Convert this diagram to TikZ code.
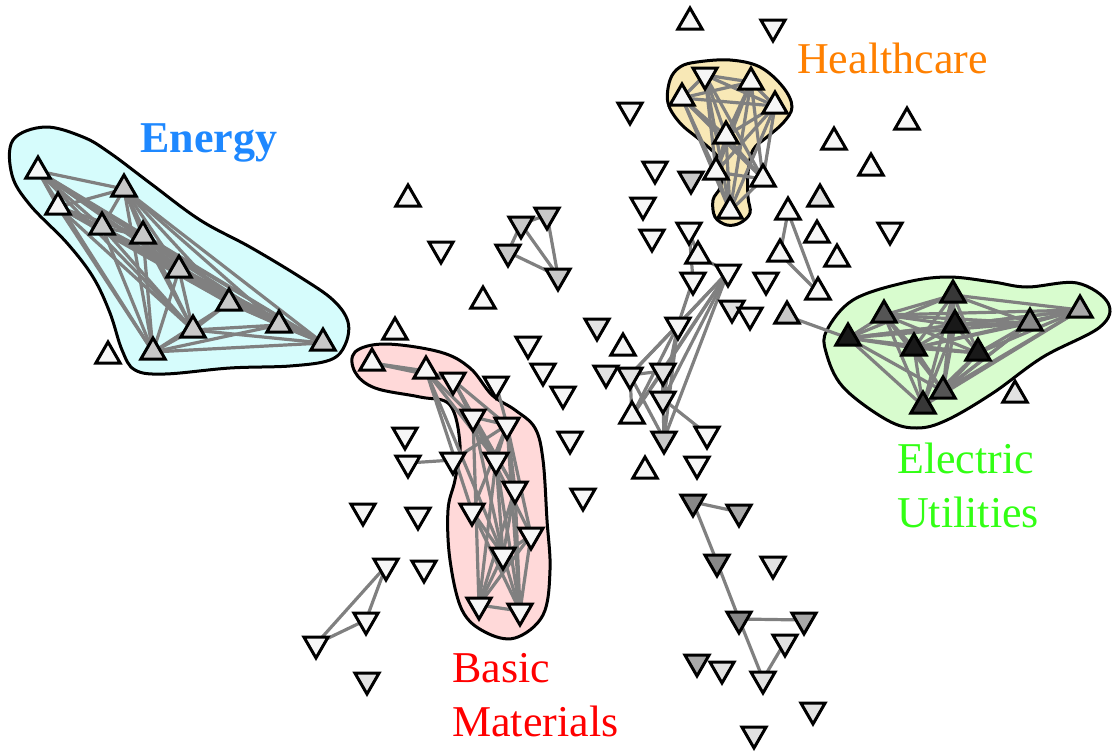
\documentclass[tikz,border=0pt]{standalone}
\usepackage{fontspec}
\setmainfont{LiberationSerif}[Extension=.ttf, UprightFont=*-Regular, BoldFont=*-Bold]
\usetikzlibrary{shapes.geometric}
\pgfdeclarelayer{blob}
\pgfdeclarelayer{edge}
\pgfsetlayers{blob,edge,main}
\definecolor{cw}{RGB}{246,246,246}
\definecolor{cl}{RGB}{226,226,226}
\definecolor{cg}{RGB}{200,200,200}
\definecolor{cm}{RGB}{168,168,168}
\definecolor{cn}{RGB}{136,136,136}
\definecolor{cd}{RGB}{85,85,85}
\definecolor{ce}{RGB}{55,55,55}
\definecolor{cx}{RGB}{25,25,25}
\definecolor{linkgray}{RGB}{128,128,128}
\definecolor{enfill}{RGB}{214,252,252}
\definecolor{hcfill}{RGB}{248,232,182}
\definecolor{bmfill}{RGB}{255,217,217}
\definecolor{eufill}{RGB}{216,252,206}
\definecolor{entext}{RGB}{30,136,255}
\definecolor{hctext}{RGB}{255,128,0}
\definecolor{bmtext}{RGB}{255,0,0}
\definecolor{eutext}{RGB}{50,255,20}
\tikzset{
  tri/.style={regular polygon, regular polygon sides=3, minimum size=28pt, inner sep=0pt, draw=black, line width=3pt},
  tup/.style={tri},
  tdn/.style={tri, shape border rotate=180},
  lnk/.style={draw=linkgray, line width=3.2pt},
  blobline/.style={draw=black, line width=3pt},
  lab/.style={font=\fontsize{44}{54}\selectfont, inner sep=0pt, anchor=north west, align=left},
}
\newcommand\triU[4]{\node[tup, fill=#4] (#1) at (#2,#3+3) {};}
\newcommand\triD[4]{\node[tdn, fill=#4] (#1) at (#2,#3-3) {};}
\newcommand\lk[2]{\draw[lnk] (#1.center) -- (#2.center);}
\newcommand\clique[1]{\foreach \a [count=\i] in {#1}{\foreach \b [count=\j] in {#1}{\ifnum\j>\i\relax\draw[lnk] (\a.center) -- (\b.center);\fi}}}
\begin{document}
\begin{tikzpicture}[x=1pt,y=-1pt]
\useasboundingbox (0,0) rectangle (1112,755);
% ---- blobs
\begin{pgfonlayer}{blob}
\path[blobline, fill=enfill] plot[smooth cycle, tension=0.6] coordinates {(13,140) (45,127) (83,137) (110,153) (150,183) (200,220) (250,247) (300,277) (333,300) (348,322) (345,345) (330,360) (290,366) (230,368) (165,374) (135,370) (122,350) (110,313) (93,277) (67,243) (30,205) (12,175)};
\path[blobline, fill=hcfill] plot[smooth cycle, tension=0.6] coordinates {(697,62) (730,60) (760,67) (783,87) (792,107) (783,123) (767,137) (753,150) (748,173) (748,197) (750,213) (740,223) (727,225) (715,217) (713,200) (720,188) (722,173) (718,157) (700,140) (680,123) (668,103) (670,80) (680,67)};
\path[blobline, fill=bmfill] plot[smooth cycle, tension=0.6] coordinates {(355,352) (385,344) (440,352) (470,368) (492,395) (515,410) (535,428) (543,460) (547,520) (550,570) (543,615) (515,638) (485,632) (462,610) (450,560) (448,510) (455,480) (460,445) (450,405) (420,397) (375,388) (355,372)};
\path[blobline, fill=eufill] plot[smooth cycle, tension=0.6] coordinates {(827,330) (853,300) (903,283) (947,277) (993,282) (1027,287) (1077,283) (1108,303) (1100,327) (1043,357) (993,393) (947,420) (917,428) (887,420) (843,387) (826,352)};
\end{pgfonlayer}
% ---- Energy
\triU{E1}{38}{168}{cw}
\triU{E2}{124}{186}{cg}
\triU{E3}{58}{204}{cw}
\triU{E4}{102}{224}{cg}
\triU{E5}{143}{233}{cg}
\triU{E6}{179}{267}{cg}
\triU{E7}{229}{300}{cg}
\triU{E8}{279}{322}{cg}
\triU{E9}{193}{327}{cg}
\triU{E10}{323}{340}{cg}
\triU{E11}{153}{349}{cg}
\triU{o1}{108}{353}{cw}
% ---- Healthcare
\triD{H1}{705}{78}{cw}
\triU{H2}{751}{79}{cw}
\triU{H3}{682}{95}{cw}
\triU{H4}{775}{103}{cw}
\triU{H5}{726}{133}{cw}
\triU{H6}{716}{169}{cw}
\triU{H7}{763}{176}{cw}
\triU{H8}{730}{208}{cw}
% ---- Electric Utilities
\triU{u1}{848}{335}{cx}
\triU{u2}{884}{312}{cd}
\triU{u3}{953}{292}{ce}
\triU{u4}{955}{322}{cx}
\triU{u5}{914}{345}{cx}
\triU{u6}{978}{350}{cx}
\triU{u7}{1030}{320}{cn}
\triU{u8}{1080}{307}{cm}
\triU{u9}{943}{388}{cd}
\triU{u10}{923}{403}{ce}
\triU{o2}{1015}{392}{cl}
% ---- top area
\triU{n1}{690}{19}{cw}
\triD{n2}{773}{30}{cw}
\triD{n3}{630}{113}{cw}
\triU{n4}{907}{119}{cw}
\triU{n5}{834}{139}{cw}
\triU{n6}{871}{165}{cw}
\triD{n7}{655}{172}{cw}
\triD{n8}{691}{182}{cg}
\triD{n9}{643}{208}{cw}
\triU{n10}{820}{196}{cl}
\triU{n11}{788}{209}{cw}
\triD{n12}{652}{240}{cw}
\triD{n13}{689}{233}{cw}
\triU{n14}{817}{232}{cw}
\triD{n15}{890}{233}{cw}
\triU{n16}{698}{253}{cw}
\triU{n17}{780}{251}{cw}
\triU{n18}{837}{256}{cw}
\triD{n19}{728}{275}{cw}
\triD{n20}{693}{283}{cw}
\triD{n21}{766}{283}{cw}
\triU{n22}{818}{289}{cw}
\triD{n23}{732}{311}{cl}
\triD{n24}{750}{318}{cw}
\triU{n25}{787}{313}{cg}
% ---- middle
\triU{m1}{408}{196}{cw}
\triD{m2}{441}{252}{cw}
\triD{m3}{521}{227}{cg}
\triD{m4}{547}{218}{cg}
\triD{m5}{508}{255}{cg}
\triD{m6}{558}{279}{cg}
\triU{m7}{483}{298}{cw}
\triU{m8}{395}{329}{cw}
\triD{m9}{597}{329}{cl}
\triD{m10}{528}{347}{cw}
\triU{m11}{623}{345}{cw}
\triD{m12}{678}{328}{cw}
\triD{m13}{543}{374}{cw}
\triD{m14}{606}{376}{cl}
\triD{m15}{630}{378}{cl}
\triD{m16}{663}{374}{cl}
\triD{m17}{563}{397}{cw}
\triD{m18}{663}{402}{cl}
\triU{m19}{632}{413}{cw}
\triD{m20}{570}{442}{cw}
\triD{m21}{664}{442}{cg}
\triD{m22}{707}{437}{cw}
\triU{m23}{645}{468}{cw}
\triD{m24}{697}{467}{cw}
\triD{m25}{583}{499}{cw}
% ---- lower right
\triD{r1}{693}{505}{cn}
\triD{r2}{739}{515}{cm}
\triD{r3}{717}{565}{cn}
\triD{r4}{773}{567}{cl}
\triD{r5}{739}{622}{cn}
\triD{r6}{804}{623}{cm}
\triD{r7}{785}{645}{cl}
\triD{r8}{697}{665}{cm}
\triD{r9}{722}{672}{cl}
\triD{r10}{763}{682}{cl}
\triD{r11}{813}{713}{cl}
\triD{r12}{754}{737}{cl}
% ---- lower left
\triD{s1}{405}{438}{cw}
\triD{s2}{408}{466}{cw}
\triD{s3}{363}{514}{cw}
\triD{s4}{418}{518}{cw}
\triD{s5}{386}{569}{cw}
\triD{s6}{424}{571}{cw}
\triD{s7}{366}{623}{cw}
\triD{s8}{316}{647}{cw}
\triD{s9}{367}{683}{cl}
% ---- Basic Materials
\triU{b1}{372}{360}{cw}
\triU{b2}{426}{368}{cw}
\triD{b3}{453}{383}{cw}
\triD{b14}{496}{387}{cw}
\triD{b4}{473}{420}{cw}
\triD{b5}{507}{428}{cw}
\triD{b6}{453}{463}{cw}
\triD{b7}{496}{463}{cw}
\triD{b8}{515}{492}{cw}
\triD{b9}{472}{514}{cw}
\triD{b10}{531}{538}{cw}
\triD{b11}{503}{558}{cw}
\triD{b12}{479}{608}{cw}
\triD{b13}{520}{614}{cw}
% ---- links
\begin{pgfonlayer}{edge}
\clique{E1,E2,E3,E4,E5,E6,E7,E8,E9,E10,E11}
\clique{H1,H2,H3,H4,H5,H6,H7,H8}
\clique{u1,u2,u3,u4,u5,u6,u7,u8,u9,u10}
\lk{n25}{u1}
\lk{m3}{m4}\lk{m3}{m5}\lk{m3}{m6}\lk{m4}{m6}\lk{m5}{m6}
\lk{s5}{s7}\lk{s5}{s8}\lk{s7}{s8}
\lk{n11}{n17}\lk{n11}{n22}\lk{n17}{n22}
\lk{r1}{r2}\lk{r1}{r3}\lk{r3}{r5}\lk{r5}{r6}\lk{r5}{r10}\lk{r10}{r7}
\lk{n13}{n16}\lk{n16}{n19}\lk{n13}{n20}\lk{n20}{m12}
\lk{n19}{m12}\lk{n19}{m15}\lk{n19}{m16}\lk{n19}{m18}\lk{n19}{m19}\lk{n19}{m21}
\lk{m12}{m15}\lk{m12}{m19}\lk{m12}{m21}\lk{m12}{m18}
\lk{m15}{m16}\lk{m15}{m19}\lk{m15}{m21}\lk{m16}{m18}\lk{m18}{m21}\lk{m18}{m22}\lk{m16}{m19}
\lk{b1}{b2}\lk{b1}{b3}\lk{b2}{b3}\lk{b2}{b4}\lk{b2}{b7}\lk{b2}{b9}\lk{b2}{b11}
\lk{b3}{b5}\lk{b3}{b7}\lk{b3}{b8}\lk{b3}{b10}\lk{b14}{b5}
\lk{b4}{b5}\lk{b4}{b8}\lk{b4}{b12}\lk{b4}{b11}
\lk{b5}{b7}\lk{b5}{b8}\lk{b5}{b9}\lk{b5}{b10}\lk{b5}{b13}\lk{b5}{b6}
\lk{b7}{b11}\lk{b7}{b12}\lk{b7}{b13}
\lk{b8}{b11}\lk{b8}{b12}\lk{b8}{b13}\lk{b9}{b13}\lk{b9}{b11}
\lk{b10}{b11}\lk{b10}{b12}\lk{b10}{b13}\lk{b11}{b12}\lk{b11}{b13}\lk{b12}{b13}
\lk{b6}{s2}
\end{pgfonlayer}
% ---- labels
\node[lab, text=entext, font=\fontsize{44}{54}\selectfont\bfseries] (lEn) at (140,123) {Energy};
\node[lab, text=hctext] (lHc) at (797,43) {Healthcare};
\node[lab, text=bmtext] (lBm) at (452,653) {Basic\\Materials};
\node[lab, text=eutext] (lEu) at (897,443) {Electric\\Utilities};
\end{tikzpicture}
\end{document}
